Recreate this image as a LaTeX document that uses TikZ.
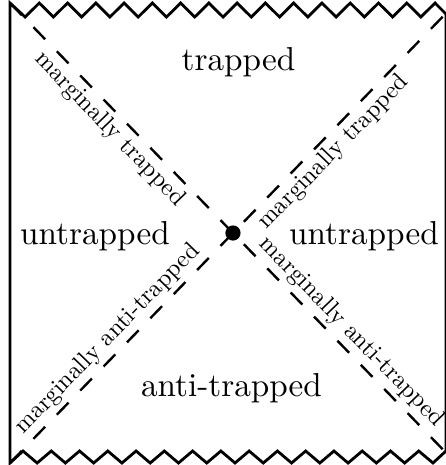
\documentclass[tikz,border=0pt]{standalone}
\usepackage{graphicx}
\begin{document}
\begin{tikzpicture}[x=0.25pt,y=-0.25pt,
  edge/.style={line width=0.7pt, line join=miter},
  diag/.style={line width=0.6pt, dash pattern=on 4.2pt off 4.2pt},
  region/.style={inner sep=0pt},
  mlabel/.style={inner sep=1pt, sloped}
]
\useasboundingbox (0,0) rectangle (446,465);
\coordinate (TL) at (10,3);
\coordinate (BR) at (456,463);
\coordinate (BL) at (10,463);
\coordinate (TR) at (456,3);
% boundary
\draw[edge] (10,463) -- (10,3)
  \foreach \k in {0,...,14}{ -- ({25.13+28.27*\k},17) -- ({39.27+28.27*\k},3)}
  -- (446,14) -- (446,451) -- (433,463)
  \foreach \k in {13,12,...,0}{ -- ({51.27+28.27*\k},451) -- ({37.13+28.27*\k},463)}
  -- (23,451) -- cycle;
% diagonals
\draw[diag] (TL) -- node[pos=0.25, below, mlabel] (mtl) {\scalebox{0.61}{marginally trapped}}
  node[pos=0.74, above, mlabel] (mbr) {\scalebox{0.61}{marginally anti-trapped}} (BR);
\draw[diag] (BL) -- node[pos=0.245, above, mlabel] (mbl) {\scalebox{0.61}{marginally anti-trapped}}
  node[pos=0.70, below, mlabel] (mtr) {\scalebox{0.61}{marginally trapped}} (TR);
\node[circle, fill, inner sep=0pt, minimum size=3.8pt] (dot) at (233,233) {};
% regions
\node[region] (trapped) at (238.5,61.7) {\scalebox{0.83}{trapped}};
\node[region] (untrappedL) at (95,235.7) {\scalebox{0.83}{untrapped}};
\node[region] (untrappedR) at (364,235.7) {\scalebox{0.83}{untrapped}};
\node[region] (antitrapped) at (231.5,388.4) {\scalebox{0.83}{anti-trapped}};
\end{tikzpicture}
\end{document}
